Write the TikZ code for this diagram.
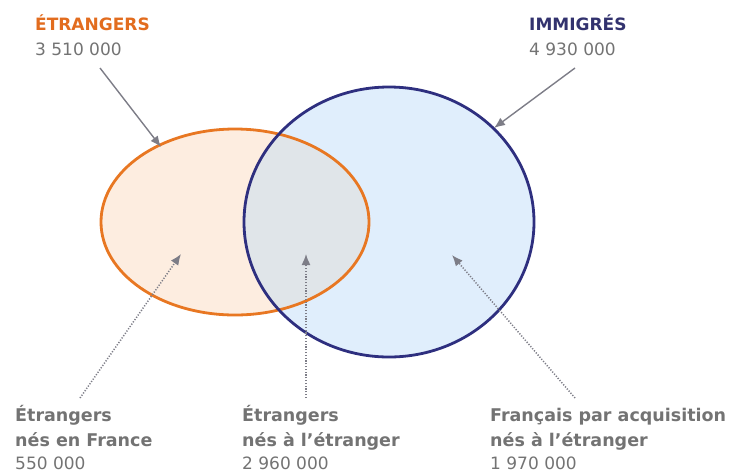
\documentclass[tikz,border=0pt]{standalone}
\usepackage{fontspec}
\setmainfont{DejaVu Sans}
\usetikzlibrary{shapes.geometric,arrows.meta}
\definecolor{orng}{RGB}{232,119,34}
\definecolor{orngtxt}{RGB}{226,108,30}
\definecolor{peach}{RGB}{253,237,224}
\definecolor{navy}{RGB}{46,47,127}
\definecolor{navytxt}{RGB}{50,50,110}
\definecolor{skyfill}{RGB}{224,238,252}
\definecolor{overlap}{RGB}{224,229,233}
\definecolor{txtgray}{RGB}{115,115,115}
\definecolor{arrgray}{RGB}{125,125,135}
\tikzset{
  title/.style={anchor=base west,inner sep=0pt,font=\bfseries\fontsize{17}{20}\selectfont},
  num/.style={anchor=base west,inner sep=0pt,text depth=0pt,text=txtgray,font=\fontsize{17}{20}\selectfont},
  lbl/.style={anchor=base west,inner sep=0pt,text=txtgray,font=\bfseries\fontsize{17.5}{20}\selectfont},
  solidarr/.style={draw=arrgray,line width=1.4pt,-{Latex[length=11pt,width=9pt]}},
  dotarr/.style={draw=arrgray,line width=1.5pt,dash pattern=on 1.2pt off 1.6pt,-{Latex[length=11pt,width=9pt]}},
}
\begin{document}
\begin{tikzpicture}[x=1pt,y=-1pt]
\useasboundingbox (0,0) rectangle (735,472);
% fills
\fill[peach] (235,222) ellipse [x radius=134, y radius=93];
\fill[skyfill] (389,222) ellipse [x radius=145, y radius=135];
\begin{scope}
  \clip (235,222) ellipse [x radius=134, y radius=93];
  \fill[overlap] (389,222) ellipse [x radius=145, y radius=135];
\end{scope}
% outlines
\node[ellipse,draw=orng,line width=2.8pt,minimum width=268,minimum height=186,inner sep=0pt] (etr) at (235,222) {};
\node[ellipse,draw=navy,line width=2.8pt,minimum width=290,minimum height=270,inner sep=0pt] (imm) at (389,222) {};
% titles
\node[title,text=orngtxt] (t1) at (35,30) {ÉTRANGERS};
\node[num] (n1) at (35,55) {3 510 000};
\node[title,text=navytxt] (t2) at (529,30) {IMMIGRÉS};
\node[num] (n2) at (529,55) {4 930 000};
% solid arrows
\coordinate (s1) at (100,68);
\coordinate (e1) at (161,147);
\coordinate (s2) at (575,68);
\coordinate (e2) at (494,128);
\draw[solidarr] (s1) -- (e1);
\draw[solidarr] (s2) -- (e2);
% bottom labels
\node[lbl] (l1a) at (15,421) {Étrangers};
\node[lbl] (l1b) at (15,446) {nés en France};
\node[num] (l1c) at (15,469) {550 000};
\node[lbl] (l2a) at (242,421) {Étrangers};
\node[lbl] (l2b) at (242,446) {nés à l’étranger};
\node[num] (l2c) at (242,469) {2 960 000};
\node[lbl] (l3a) at (490,421) {Français par acquisition};
\node[lbl] (l3b) at (490,446) {nés à l’étranger};
\node[num] (l3c) at (490,469) {1 970 000};
% dotted arrows
\coordinate (d1s) at (80,398);
\coordinate (d1e) at (181,254);
\coordinate (d2s) at (306,398);
\coordinate (d2e) at (306,254);
\coordinate (d3s) at (575,398);
\coordinate (d3e) at (452,255);
\draw[dotarr] (d1s) -- (d1e);
\draw[dotarr] (d2s) -- (d2e);
\draw[dotarr] (d3s) -- (d3e);
\end{tikzpicture}
\end{document}
